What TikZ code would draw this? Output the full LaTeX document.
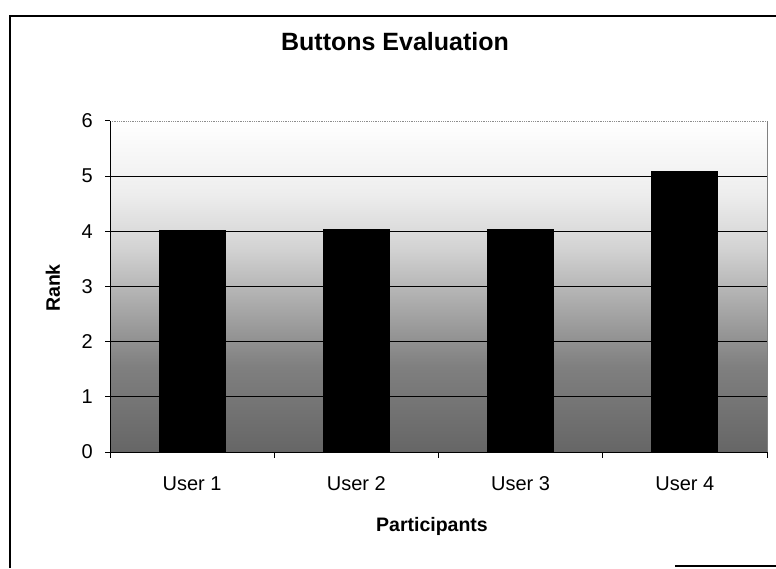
\documentclass[tikz,border=0pt]{standalone}
\usepackage{fontspec}
\setmainfont{Liberation Sans}
\pgfdeclareverticalshading{plotbg}{100bp}{%
  color(0bp)=(black!60); color(25bp)=(black!60); color(38bp)=(black!50);
  color(48bp)=(black!32); color(56bp)=(black!17); color(64bp)=(black!7);
  color(75bp)=(white); color(100bp)=(white)}
\tikzset{
  frameline/.style={line width=1.6pt, black},
  gridline/.style={line width=0.8pt, black},
  topgrid/.style={line width=0.8pt, black!45, densely dotted},
  axisline/.style={line width=1pt, black},
  bar/.style={fill=black, draw=none},
  ticklabel/.style={font=\fontsize{20}{24}\selectfont, inner sep=0pt},
  axistitle/.style={font=\fontsize{19.5}{23}\selectfont\bfseries, inner sep=0pt},
  charttitle/.style={font=\fontsize{25}{30}\selectfont\bfseries, inner sep=0pt},
}
\begin{document}
\begin{tikzpicture}[x=1pt, y=-1pt]
  \useasboundingbox (0,0) rectangle (776,568);
  \fill[white] (0,0) rectangle (776,568);
  % outer chart frame (left, top and the visible bottom piece)
  \draw[frameline] (10,568) -- (10,16) -- (776,16);
  \draw[frameline] (675,566) -- (776,566);
  % titles
  \node[charttitle] (title) at (395,42) {Buttons Evaluation};
  \node[axistitle, rotate=90] (ytitle) at (53,288) {Rank};
  \node[axistitle] (xtitle) at (432,526) {Participants};
  % plot area: x in categories, y in rank units
  \begin{scope}[shift={(110,452)}, x=164.25pt, y=55.17pt]
    \shade[shading=plotbg] (0,0) rectangle (4,6);
    \foreach \v in {1,...,5}
      \draw[gridline] (0,\v) -- (4,\v);
    \draw[topgrid] (0,6) -- (4,6);
    \draw[line width=0.6pt, black!50] (4,0) -- (4,6);
    % bars
    \foreach \i/\h in {1/4.02, 2/4.05, 3/4.05, 4/5.1}
      \fill[bar] (\i-0.704,0) rectangle (\i-0.296,\h);
    % axes and ticks
    \draw[axisline] (0,6) -- (0,0) -- (4,0);
    \foreach \v in {0,...,6}{
      \draw[axisline] ([xshift=-5pt]0,\v) -- (0,\v);
      \node[ticklabel, anchor=east] (ylab\v) at ([xshift=-17pt]0,\v) {\v};
    }
    \foreach \i in {0,...,4}
      \draw[axisline] (\i,0) -- ([yshift=-6pt]\i,0);
    \foreach \i in {1,...,4}
      \node[ticklabel] (xlab\i) at ([yshift=-32pt]\i-0.5,0) {User \i};
  \end{scope}
\end{tikzpicture}
\end{document}
